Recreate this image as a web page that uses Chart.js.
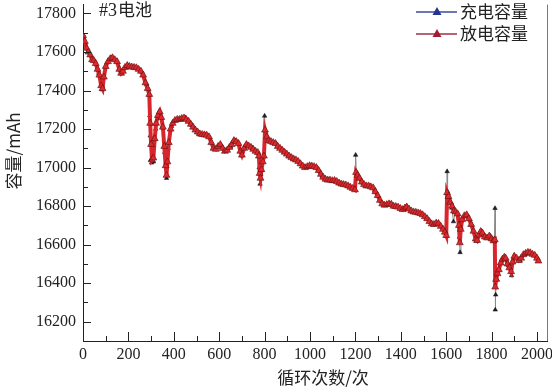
<!DOCTYPE html>
<html>
<head>
<meta charset="utf-8">
<script src="https://cdn.jsdelivr.net/npm/chart.js@4"></script>
<style>
  body { margin: 0; background: #fff; }
  #wrap { width: 552px; height: 389px; }
  .fontwarm { position: absolute; left: -999px; top: 0; font: 16px "Liberation Serif"; }
</style>
</head>
<body>
<span class="fontwarm">17800 #3</span>
<div id="wrap"><canvas id="myChart" width="552" height="389"></canvas></div>
<script>
// tick labels
var xTicks = [0, 200, 400, 600, 800, 1000, 1200, 1400, 1600, 1800, 2000];
var yTicks = [16200, 16400, 16600, 16800, 17000, 17200, 17400, 17600, 17800];

// 放电容量 (discharge)
var dischargeCycles = [0, 8, 16, 24, 32, 40, 48, 56, 64, 72, 80, 86, 92, 100, 110, 120, 130, 140, 150, 160,
  168, 176, 185, 195, 205, 215, 225, 235, 245, 255, 265, 275, 285, 292, 296, 300, 304, 310, 316, 322,
  330, 338, 345, 352, 358, 364, 368, 372, 378, 386, 395, 405, 415, 425, 435, 445, 455, 465, 475, 485,
  495, 505, 515, 525, 535, 545, 555, 565, 575, 585, 595, 605, 615, 625, 635, 645, 655, 665, 675, 685,
  693, 700, 710, 720, 730, 740, 750, 760, 770, 775, 778, 782, 786, 792, 797, 802, 810, 818, 828, 838,
  848, 858, 868, 878, 888, 898, 908, 918, 928, 938, 948, 958, 968, 978, 988, 998, 1008, 1018, 1028, 1038,
  1048, 1058, 1068, 1078, 1088, 1098, 1108, 1118, 1128, 1138, 1148, 1158, 1168, 1178, 1188, 1198, 1203, 1210, 1218, 1228,
  1238, 1248, 1258, 1268, 1278, 1288, 1298, 1308, 1318, 1328, 1338, 1348, 1358, 1368, 1378, 1388, 1398, 1408, 1418, 1426,
  1436, 1446, 1456, 1466, 1476, 1486, 1496, 1506, 1516, 1526, 1536, 1546, 1556, 1566, 1576, 1586, 1594, 1600, 1604, 1610,
  1618, 1626, 1634, 1642, 1650, 1656, 1660, 1664, 1670, 1680, 1690, 1700, 1710, 1720, 1730, 1736, 1744, 1752, 1760, 1770,
  1780, 1790, 1800, 1808, 1814, 1816, 1820, 1826, 1832, 1840, 1848, 1856, 1862, 1870, 1878, 1886, 1892, 1900, 1910, 1920,
  1930, 1940, 1950, 1960, 1970, 1980, 1990, 2000, 2006];
var dischargeValues = [17685, 17655, 17620, 17600, 17585, 17560, 17555, 17540, 17510, 17480, 17425, 17410, 17470, 17525, 17550, 17565, 17570, 17560, 17550, 17510,
  17490, 17500, 17520, 17530, 17525, 17522, 17520, 17518, 17510, 17500, 17480, 17440, 17410, 17380, 17230, 17120, 17040, 17050, 17150, 17230,
  17270, 17290, 17260, 17210, 17110, 17010, 16960, 17030, 17130, 17200, 17230, 17245, 17250, 17250, 17255, 17258, 17250, 17240, 17225, 17210,
  17195, 17185, 17175, 17172, 17170, 17168, 17160, 17130, 17100, 17095, 17110, 17120, 17100, 17085, 17090, 17105, 17120, 17140, 17135, 17125,
  17085, 17065, 17100, 17120, 17112, 17105, 17095, 17085, 17078, 17060, 16970, 16945, 16990, 17030, 17060, 17195, 17160, 17140, 17135, 17130,
  17125, 17110, 17100, 17090, 17080, 17070, 17060, 17052, 17045, 17040, 17032, 17020, 17008, 17000, 17005, 17010, 17008, 17005, 17000, 16985,
  16965, 16950, 16940, 16935, 16935, 16932, 16933, 16928, 16920, 16915, 16912, 16910, 16905, 16898, 16892, 16885, 16975, 16960, 16945, 16925,
  16912, 16905, 16905, 16900, 16895, 16875, 16855, 16830, 16812, 16805, 16808, 16812, 16810, 16800, 16798, 16795, 16788, 16782, 16790, 16795,
  16785, 16775, 16770, 16768, 16765, 16762, 16755, 16745, 16735, 16720, 16708, 16705, 16712, 16710, 16695, 16680, 16665, 16648, 16870, 16850,
  16820, 16800, 16775, 16770, 16760, 16700, 16610, 16680, 16730, 16750, 16755, 16735, 16705, 16670, 16630, 16622, 16650, 16668, 16660, 16640,
  16635, 16645, 16630, 16620, 16625, 16380, 16420, 16450, 16470, 16505, 16525, 16535, 16530, 16500, 16480, 16460, 16510, 16540, 16530, 16518,
  16530, 16548, 16555, 16560, 16558, 16550, 16545, 16530, 16515];

// 充电容量 (charge), mostly hidden under the discharge band
var chargeCycles = [0, 25, 50, 70, 84, 100, 125, 150, 168, 195, 225, 255, 280, 292, 294, 296, 298, 302, 310, 320,
  336, 350, 360, 368, 375, 390, 420, 450, 480, 510, 540, 565, 585, 605, 625, 650, 670, 685, 700, 720,
  745, 770, 776, 780, 786, 796, 800, 803, 820, 850, 880, 910, 940, 970, 1000, 1030, 1055, 1080, 1110, 1140,
  1170, 1198, 1201, 1204, 1230, 1260, 1285, 1310, 1325, 1350, 1380, 1411, 1426, 1455, 1485, 1515, 1543, 1565, 1587, 1601,
  1604, 1606, 1615, 1625, 1632, 1640, 1652, 1658, 1661, 1665, 1690, 1712, 1734, 1756, 1778, 1795, 1812, 1815, 1816, 1818,
  1824, 1832, 1845, 1859, 1874, 1888, 1900, 1925, 1947, 1969, 1991, 2006];
var chargeValues = [17690, 17600, 17555, 17490, 17405, 17525, 17570, 17552, 17488, 17532, 17522, 17502, 17432, 17378, 17270, 17165, 17040, 17025, 17030, 17200,
  17292, 17215, 17080, 16945, 17100, 17215, 17250, 17260, 17220, 17180, 17170, 17132, 17095, 17120, 17085, 17108, 17140, 17128, 17062, 17122,
  17104, 17078, 17000, 16915, 16985, 17060, 17268, 17190, 17140, 17125, 17088, 17058, 17038, 17005, 17010, 17000, 16955, 16935, 16932, 16914,
  16905, 16886, 17065, 16978, 16922, 16905, 16880, 16828, 16806, 16813, 16797, 16782, 16800, 16771, 16763, 16738, 16704, 16712, 16680, 16645,
  16980, 16875, 16830, 16790, 16720, 16770, 16758, 16640, 16560, 16690, 16756, 16704, 16619, 16670, 16635, 16645, 16622, 16789, 16262, 16340,
  16420, 16470, 16516, 16533, 16492, 16440, 16540, 16517, 16550, 16560, 16543, 16516];

function toPoints(xs, ys) {
  var pts = [];
  for (var i = 0; i < xs.length; i++) {
    pts.push({ x: xs[i], y: ys[i] });
  }
  return pts;
}

var serif = '"Liberation Serif", serif';
Chart.defaults.font.family = serif;
Chart.defaults.font.size = 16;
Chart.defaults.color = '#222';
var tickFont = { family: serif, size: 16 };
var cjkFont = '17px "Noto Sans CJK SC"';

// inward ticks, right frame line, titles and legend
var decorPlugin = {
  id: 'decor',
  afterDraw: function (chart) {
    var ctx = chart.ctx;
    var area = chart.chartArea;
    var xs = chart.scales.x;
    var ys = chart.scales.y;
    ctx.save();
    ctx.strokeStyle = '#222';
    ctx.lineWidth = 1;
    for (var v = 0; v <= 2000; v += 100) {
      var px = Math.round(xs.getPixelForValue(v)) + 0.5;
      var len = v % 200 === 0 ? 9 : 5;
      ctx.beginPath();
      ctx.moveTo(px, area.bottom);
      ctx.lineTo(px, area.bottom - len);
      ctx.stroke();
    }
    for (var w = 16200; w <= 17800; w += 100) {
      var py = Math.round(ys.getPixelForValue(w)) + 0.5;
      var l2 = w % 200 === 0 ? 8 : 5;
      ctx.beginPath();
      ctx.moveTo(area.left, py);
      ctx.lineTo(area.left + l2, py);
      ctx.stroke();
    }
    // right frame
    ctx.strokeStyle = '#777';
    ctx.beginPath();
    ctx.moveTo(area.right + 0.5, area.top);
    ctx.lineTo(area.right + 0.5, area.bottom);
    ctx.stroke();

    ctx.fillStyle = '#222';
    ctx.font = '18px ' + serif;
    ctx.textBaseline = 'middle';
    ctx.textAlign = 'left';
    ctx.fillText('#3', 99, 11);
    var w3 = ctx.measureText('#3').width;
    ctx.font = cjkFont;
    ctx.fillText('电池', 99 + w3 + 1, 10);

    ctx.textAlign = 'center';
    ctx.fillText('循环次数/次', 323, 378);

    ctx.save();
    ctx.translate(14, 151);
    ctx.rotate(-Math.PI / 2);
    ctx.fillText('容量/mAh', 0, 0);
    ctx.restore();

    // legend
    var items = [
      { label: '充电容量', line: '#3c4a9c', fill: '#27348b', y: 12 },
      { label: '放电容量', line: '#9a3444', fill: '#a21c36', y: 34 }
    ];
    items.forEach(function (it) {
      ctx.strokeStyle = it.line;
      ctx.lineWidth = 1.5;
      ctx.beginPath();
      ctx.moveTo(416, it.y);
      ctx.lineTo(457, it.y);
      ctx.stroke();
      ctx.fillStyle = it.fill;
      ctx.beginPath();
      ctx.moveTo(437, it.y - 5);
      ctx.lineTo(441.5, it.y + 3);
      ctx.lineTo(432.5, it.y + 3);
      ctx.closePath();
      ctx.fill();
      ctx.fillStyle = '#222';
      ctx.textAlign = 'left';
      ctx.fillText(it.label, 460, it.y);
    });
    ctx.restore();
  }
};

var ctx = document.getElementById('myChart').getContext('2d');
var myChart = new Chart(ctx, {
  type: 'line',
  data: {
    datasets: [{
      label: '放电容量',
      data: toPoints(dischargeCycles, dischargeValues),
      order: 0,
      borderColor: '#d8262c',
      borderWidth: 4,
      pointStyle: 'triangle',
      pointRadius: 4,
      pointBackgroundColor: '#e0282c',
      pointBorderColor: '#5a1414',
      pointBorderWidth: 0.6,
      tension: 0
    }, {
      label: '充电容量',
      data: toPoints(chargeCycles, chargeValues),
      order: 1,
      borderColor: '#8a8a8a',
      borderWidth: 1,
      pointStyle: 'triangle',
      pointRadius: 2.6,
      pointBackgroundColor: '#1c1c30',
      pointBorderColor: '#111',
      pointBorderWidth: 0.5,
      tension: 0
    }]
  },
  options: {
    responsive: false,
    animation: false,
    layout: { padding: { left: 0, right: 5, top: 0, bottom: 0 } },
    plugins: {
      legend: { display: false },
      tooltip: { enabled: false }
    },
    scales: {
      x: {
        type: 'linear',
        min: 0,
        max: 2044,
        grid: { display: false, drawTicks: false },
        border: { color: '#222', width: 1 },
        ticks: {
          font: tickFont, color: '#222', padding: 4, maxRotation: 0,
          callback: function (v) { return String(v); }
        },
        afterBuildTicks: function (scale) {
          scale.ticks = xTicks.map(function (v) { return { value: v }; });
        },
        afterFit: function (scale) {
          scale.height = 48;
          scale.paddingLeft = 0;
          scale.paddingRight = 0;
        }
      },
      y: {
        min: 16100,
        max: 17846,
        grid: { display: false, drawTicks: false },
        border: { color: '#222', width: 1 },
        ticks: {
          font: tickFont, color: '#222', padding: 7,
          callback: function (v) { return String(v); }
        },
        afterBuildTicks: function (scale) {
          scale.ticks = yTicks.map(function (v) { return { value: v }; });
        },
        afterFit: function (scale) {
          scale.width = 83;
          scale.paddingTop = 0;
          scale.paddingBottom = 0;
        }
      }
    }
  },
  plugins: [decorPlugin]
});

// redraw once the serif face is surely available to the canvas
if (document.fonts && document.fonts.load) {
  document.fonts.load('16px "Liberation Serif"').then(function () {
    myChart.update('none');
  });
}
</script>
</body>
</html>
